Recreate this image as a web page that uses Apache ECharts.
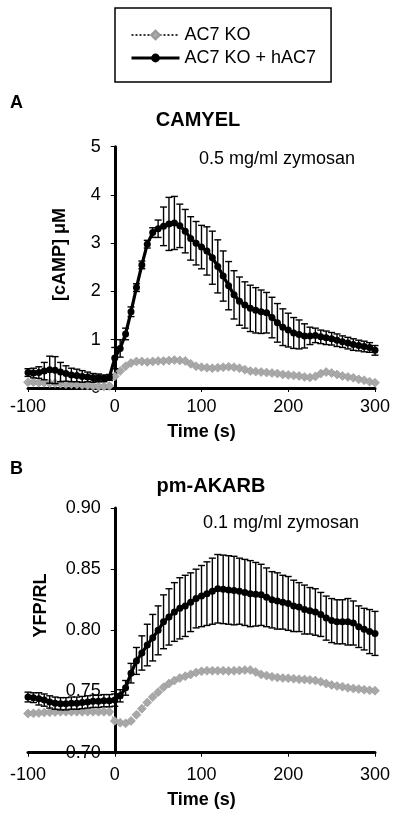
<!DOCTYPE html>
<html>
<head>
<meta charset="utf-8">
<script src="https://cdn.jsdelivr.net/npm/echarts@6/dist/echarts.min.js"></script>
<style>
html,body{margin:0;padding:0;background:#fff;}
#chart{width:400px;height:820px;}
</style>
</head>
<body>
<div id="chart"></div>
<script>
// Time points (s)
const times = [
  -100,-93.75,-87.5,-81.25,-75,-68.75,-62.5,-56.25,-50,-43.75,-37.5,-31.25,-25,-18.75,-12.5,-6.25,
  0,6.25,12.5,18.75,25,31.25,37.5,43.75,50,56.25,62.5,68.75,75,81.25,87.5,93.75,
  100,106.25,112.5,118.75,125,131.25,137.5,143.75,150,156.25,162.5,168.75,175,181.25,187.5,193.75,
  200,206.25,212.5,218.75,225,231.25,237.5,243.75,250,256.25,262.5,268.75,275,281.25,287.5,293.75,
  300
];
const seriesNames = ['AC7 KO', 'AC7 KO + hAC7'];

// Panel A: CAMYEL [cAMP] uM
const aMean = [
  0.32,0.31,0.32,0.35,0.38,0.37,0.33,0.30,0.27,0.26,0.24,0.23,0.21,0.21,0.20,0.22,
  0.62,0.82,1.12,1.58,2.08,2.55,2.98,3.22,3.30,3.35,3.40,3.42,3.36,3.25,3.10,3.00,
  2.92,2.84,2.70,2.52,2.32,2.12,1.93,1.80,1.72,1.65,1.61,1.58,1.56,1.46,1.35,1.26,
  1.20,1.14,1.11,1.08,1.08,1.09,1.06,1.04,1.02,0.99,0.96,0.93,0.90,0.88,0.86,0.84,
  0.78
];
const aErr = [
  0.08,0.10,0.12,0.18,0.28,0.28,0.20,0.16,0.14,0.13,0.12,0.10,0.09,0.08,0.07,0.06,
  0.22,0.18,0.12,0.10,0.08,0.08,0.08,0.10,0.18,0.40,0.55,0.55,0.45,0.45,0.45,0.45,
  0.45,0.50,0.55,0.55,0.52,0.50,0.50,0.50,0.48,0.48,0.47,0.45,0.42,0.42,0.40,0.38,
  0.35,0.32,0.30,0.25,0.18,0.15,0.14,0.14,0.13,0.13,0.12,0.12,0.12,0.11,0.11,0.10,
  0.10
];
const aKO = [
  0.12,0.12,0.11,0.11,0.10,0.10,0.09,0.08,0.08,0.07,0.06,0.05,0.04,0.03,0.03,0.04,
  0.24,0.35,0.45,0.52,0.55,0.55,0.54,0.55,0.56,0.56,0.57,0.58,0.57,0.56,0.50,0.45,
  0.43,0.42,0.41,0.42,0.43,0.44,0.43,0.41,0.38,0.35,0.34,0.33,0.32,0.31,0.30,0.28,
  0.27,0.26,0.25,0.23,0.22,0.24,0.30,0.33,0.31,0.28,0.25,0.23,0.21,0.18,0.16,0.13,
  0.11
];

// Panel B: pm-AKARB YFP/RL
const bMean = [
  0.7455,0.7450,0.7440,0.7430,0.7415,0.7405,0.7400,0.7400,0.7405,0.7405,0.7410,0.7415,0.7420,0.7420,0.7425,0.7425,
  0.7430,0.7465,0.7530,0.7650,0.7750,0.7815,0.7880,0.7940,0.8000,0.8070,0.8110,0.8150,0.8180,0.8200,0.8230,0.8260,
  0.8280,0.8300,0.8320,0.8340,0.8335,0.8330,0.8325,0.8320,0.8310,0.8300,0.8295,0.8290,0.8270,0.8250,0.8240,0.8230,
  0.8220,0.8200,0.8190,0.8170,0.8160,0.8150,0.8130,0.8100,0.8080,0.8070,0.8070,0.8070,0.8060,0.8030,0.8010,0.7990,
  0.7975
];
const bErr = [
  0.004,0.004,0.005,0.005,0.005,0.005,0.005,0.005,0.005,0.005,0.005,0.005,0.005,0.005,0.005,0.005,
  0.005,0.005,0.006,0.008,0.011,0.014,0.017,0.019,0.020,0.022,0.023,0.024,0.025,0.025,0.024,0.024,
  0.025,0.026,0.027,0.028,0.028,0.028,0.028,0.027,0.027,0.027,0.026,0.025,0.024,0.023,0.023,0.022,
  0.022,0.021,0.020,0.020,0.019,0.019,0.018,0.018,0.018,0.018,0.018,0.019,0.018,0.017,0.017,0.018,
  0.018
];
const bKO = [
  0.7320,0.7322,0.7325,0.7328,0.7330,0.7332,0.7335,0.7335,0.7335,0.7335,0.7335,0.7335,0.7335,0.7335,0.7335,0.7335,
  0.7260,0.7245,0.7240,0.7260,0.7310,0.7360,0.7410,0.7455,0.7495,0.7535,0.7565,0.7590,0.7610,0.7625,0.7640,0.7655,
  0.7665,0.7670,0.7670,0.7670,0.7670,0.7668,0.7670,0.7672,0.7675,0.7675,0.7660,0.7640,0.7630,0.7620,0.7615,0.7610,
  0.7608,0.7605,0.7600,0.7598,0.7595,0.7590,0.7580,0.7565,0.7553,0.7545,0.7540,0.7530,0.7525,0.7520,0.7515,0.7510,
  0.7507
];

const xTicks = { min: -100, max: 300, interval: 100 };
const aTicks = { min: 0, max: 5, interval: 1 };
const bTicks = { min: 0.70, max: 0.90, interval: 0.05 };

const FONT = 'Liberation Sans, Arial, Helvetica, sans-serif';
const GRID_LEFT = 28, GRID_RIGHT = 25, WIDTH = 400;
// y axis sits at time 0: shift it inward from the grid's left edge
const Y_OFFSET = -((0 - xTicks.min) / (xTicks.max - xTicks.min)) * (WIDTH - GRID_LEFT - GRID_RIGHT);

const zip = (xs, ys) => xs.map((x, i) => [x, ys[i]]);
const zip3 = (xs, ys, es) => xs.map((x, i) => [x, ys[i], es[i]]);

function errRender(params, api) {
  const x = api.value(0), y = api.value(1), e = api.value(2);
  const top = api.coord([x, y + e]);
  const bot = api.coord([x, y - e]);
  const cap = 3.5;
  const st = { stroke: '#000', lineWidth: 1.4 };
  return {
    type: 'group',
    children: [
      { type: 'line', shape: { x1: top[0], y1: top[1], x2: bot[0], y2: bot[1] }, style: st },
      { type: 'line', shape: { x1: top[0] - cap, y1: top[1], x2: top[0] + cap, y2: top[1] }, style: st },
      { type: 'line', shape: { x1: bot[0] - cap, y1: bot[1], x2: bot[0] + cap, y2: bot[1] }, style: st }
    ]
  };
}

function xAxisDef(gridIndex, margin) {
  return {
    type: 'value', gridIndex, min: xTicks.min, max: xTicks.max, interval: xTicks.interval,
    axisLine: { show: true, onZero: false, lineStyle: { color: '#000', width: 3 } },
    axisTick: { show: true, length: 4, lineStyle: { color: '#000', width: 1 } },
    axisLabel: { color: '#000', fontSize: 18, fontFamily: FONT, margin: margin },
    splitLine: { show: false }
  };
}
function yAxisDef(gridIndex, t, fmt) {
  return {
    type: 'value', gridIndex, position: 'left', offset: Y_OFFSET,
    min: t.min, max: t.max, interval: t.interval,
    axisLine: { show: true, onZero: false, lineStyle: { color: '#000', width: 3 } },
    axisTick: { show: true, length: 4, lineStyle: { color: '#000', width: 1 } },
    axisLabel: { color: '#000', fontSize: 18, fontFamily: FONT, margin: 14, formatter: fmt },
    splitLine: { show: false }
  };
}

const grayStyle = {
  symbol: 'diamond', symbolSize: 9,
  itemStyle: { color: '#a8a8a8', borderColor: '#979797', borderWidth: 0.6 },
  lineStyle: { color: '#a8a8a8', width: 1.5, type: 'dotted' }
};
const blackStyle = {
  symbol: 'circle', symbolSize: 7,
  itemStyle: { color: '#000' },
  lineStyle: { color: '#000', width: 3.2 }
};

const chart = echarts.init(document.getElementById('chart'), null, { renderer: 'canvas' });
chart.setOption({
  animation: false,
  backgroundColor: '#fff',
  textStyle: { fontFamily: FONT },
  legend: {
    left: 115, top: 8, orient: 'vertical',
    padding: [18, 15, 15, 15],
    itemGap: 5, itemWidth: 48, itemHeight: 11,
    borderColor: '#000', borderWidth: 1.5,
    textStyle: { fontSize: 18, color: '#000', fontFamily: FONT, lineHeight: 18 },
    data: [
      { name: seriesNames[0], lineStyle: { color: '#333', type: 'dotted', width: 2 }, itemStyle: { color: '#a8a8a8' } },
      { name: seriesNames[1], lineStyle: { color: '#000', width: 3 }, itemStyle: { color: '#000' } }
    ]
  },
  grid: [
    { left: GRID_LEFT, right: GRID_RIGHT, top: 146.7, bottom: 432, outerBoundsMode: 'none', containLabel: false },
    { left: GRID_LEFT, right: GRID_RIGHT, top: 508, bottom: 67.3, outerBoundsMode: 'none', containLabel: false }
  ],
  xAxis: [xAxisDef(0, 10), xAxisDef(1, 13)],
  yAxis: [
    yAxisDef(0, aTicks, v => String(Math.round(v))),
    yAxisDef(1, bTicks, v => v.toFixed(2))
  ],
  graphic: [
    { type: 'text', left: 10, top: 94, style: { text: 'A', font: 'bold 18px ' + FONT, fill: '#000' } },
    { type: 'text', x: 198, y: 120, style: { text: 'CAMYEL', font: 'bold 20px ' + FONT, fill: '#000', textAlign: 'center', textVerticalAlign: 'middle' } },
    { type: 'text', x: 199, y: 159, style: { text: '0.5 mg/ml zymosan', font: '18px ' + FONT, fill: '#000', textAlign: 'left', textVerticalAlign: 'middle' } },
    { type: 'text', x: 60.5, y: 254.5, rotation: Math.PI / 2, style: { text: '[cAMP] \u03bcM', font: 'bold 18px ' + FONT, fill: '#000', textAlign: 'center', textVerticalAlign: 'middle' } },
    { type: 'text', x: 201.5, y: 432, style: { text: 'Time (s)', font: 'bold 18px ' + FONT, fill: '#000', textAlign: 'center', textVerticalAlign: 'middle' } },
    { type: 'text', left: 10, top: 460, style: { text: 'B', font: 'bold 18px ' + FONT, fill: '#000' } },
    { type: 'text', x: 211, y: 486, style: { text: 'pm-AKARB', font: 'bold 20px ' + FONT, fill: '#000', textAlign: 'center', textVerticalAlign: 'middle' } },
    { type: 'text', x: 203, y: 523, style: { text: '0.1 mg/ml zymosan', font: '18px ' + FONT, fill: '#000', textAlign: 'left', textVerticalAlign: 'middle' } },
    { type: 'text', x: 41, y: 605.5, rotation: Math.PI / 2, style: { text: 'YFP/RL', font: 'bold 18px ' + FONT, fill: '#000', textAlign: 'center', textVerticalAlign: 'middle' } },
    { type: 'text', x: 201.5, y: 800, style: { text: 'Time (s)', font: 'bold 18px ' + FONT, fill: '#000', textAlign: 'center', textVerticalAlign: 'middle' } }
  ],
  series: [
    Object.assign({ name: seriesNames[0], type: 'line', xAxisIndex: 0, yAxisIndex: 0, data: zip(times, aKO), z: 2 }, grayStyle),
    { type: 'custom', xAxisIndex: 0, yAxisIndex: 0, renderItem: errRender, data: zip3(times, aMean, aErr), z: 3 },
    Object.assign({ name: seriesNames[1], type: 'line', xAxisIndex: 0, yAxisIndex: 0, data: zip(times, aMean), z: 4 }, blackStyle),
    Object.assign({ name: seriesNames[0], type: 'line', xAxisIndex: 1, yAxisIndex: 1, data: zip(times, bKO), z: 2 }, grayStyle),
    { type: 'custom', xAxisIndex: 1, yAxisIndex: 1, renderItem: errRender, data: zip3(times, bMean, bErr), z: 3 },
    Object.assign({ name: seriesNames[1], type: 'line', xAxisIndex: 1, yAxisIndex: 1, data: zip(times, bMean), z: 4 }, blackStyle)
  ]
});
</script>
</body>
</html>
